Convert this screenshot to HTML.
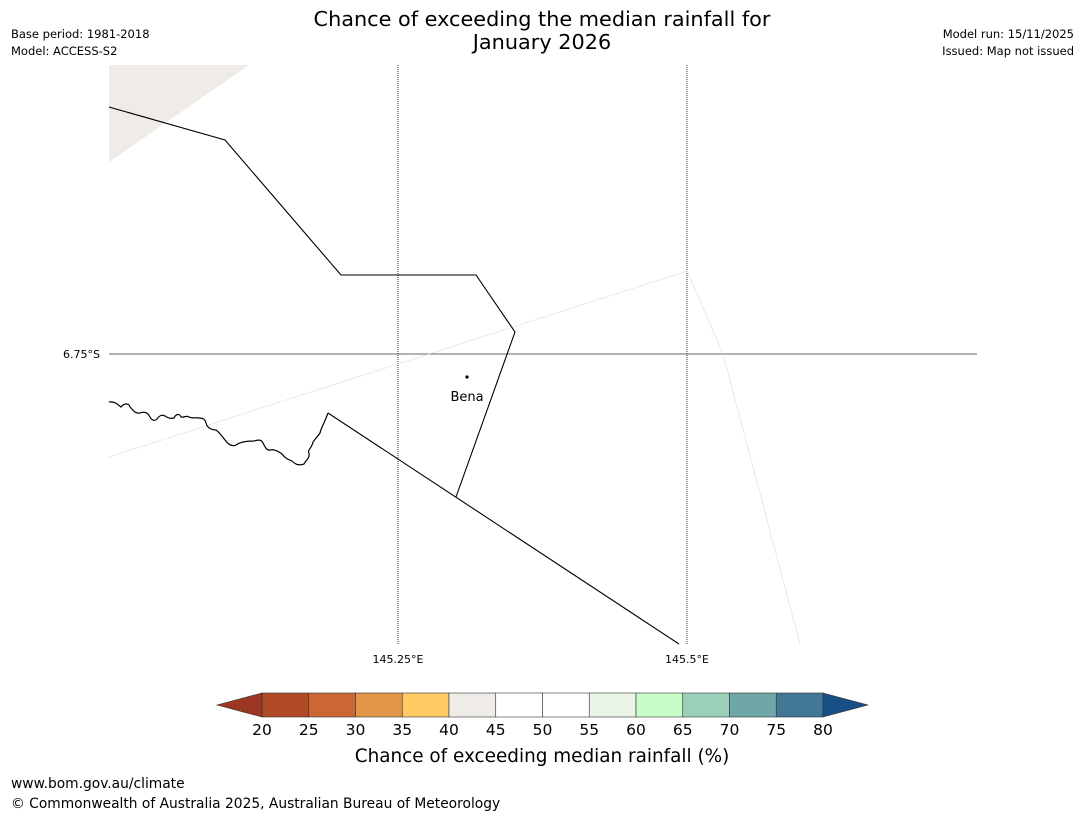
<!DOCTYPE html>
<html><head><meta charset="utf-8"><style>
body{margin:0;background:#fff;font-family:"Liberation Sans","DejaVu Sans",sans-serif;}
svg text{font-family:"DejaVu Sans","Liberation Sans",sans-serif;}
</style></head><body>
<svg width="1085" height="816" viewBox="0 0 1085 816" xmlns="http://www.w3.org/2000/svg">
<text x="542" y="26" font-size="20.8" text-anchor="middle">Chance of exceeding the median rainfall for</text>
<text x="542" y="49" font-size="20.8" text-anchor="middle">January 2026</text>
<text x="11" y="38" font-size="11.5">Base period: 1981-2018</text>
<text x="11" y="55" font-size="11.5">Model: ACCESS-S2</text>
<text x="1074" y="38" font-size="11.5" text-anchor="end">Model run: 15/11/2025</text>
<text x="1074" y="55" font-size="11.5" text-anchor="end">Issued: Map not issued</text>
<g>
<polygon points="109,65 249,65 109,162" fill="#efebe6"/>
<line x1="398" y1="65" x2="398" y2="644" stroke="#000" stroke-width="0.8" stroke-dasharray="1,1"/>
<line x1="687" y1="65" x2="687" y2="644" stroke="#000" stroke-width="0.8" stroke-dasharray="1,1"/>
<line x1="109" y1="354" x2="977" y2="354" stroke="#666" stroke-width="1"/>
<polyline points="109,457 687,271 723,354 800,644" fill="none" stroke="#ddd" stroke-width="0.6"/>
<polyline points="109,107 225,140 341,275 476,275 515,332 456,497" fill="none" stroke="#000" stroke-width="1.1"/>
<polyline points="328,413 679,644" fill="none" stroke="#000" stroke-width="1.1"/>
<path d="M109,402 C115,401 118,405 121,407 C124,403 129,403 130,407 C133,410 135,414 140,413 C145,411 148,413 150,417 C152,421 155,421 157,419 C159,416 162,414 165,416 C168,418 171,419 174,418 C176,414 179,413 181,417 C184,418 186,415 189,417 C193,419 196,417 199,418 C203,418 205,419 206,423 C207,428 212,430 216,430 C219,432 222,436 225,440 C228,444 232,447 236,445 C240,442 248,441 254,441 C258,440 261,439 263,443 C265,447 267,451 270,450 C274,449 278,451 282,454 C285,458 287,459 292,461 C295,464 298,466 304,464 C306,460 310,458 309,453 C307,450 312,448 313,442 C316,438 318,436 320,433 C321,428 324,424 328,413" fill="none" stroke="#000" stroke-width="1.2"/>
<circle cx="467" cy="377" r="1.6" fill="#000"/>
<text x="467" y="401" font-size="13" text-anchor="middle">Bena</text>
<text x="100" y="358" font-size="11" text-anchor="end">6.75°S</text>
<text x="398" y="663" font-size="11" text-anchor="middle">145.25°E</text>
<text x="687" y="663" font-size="11" text-anchor="middle">145.5°E</text>
</g>
<g id="cbar"></g>
<text x="542" y="762" font-size="18.4" text-anchor="middle">Chance of exceeding median rainfall (%)</text>
<text x="11" y="788" font-size="13.8">www.bom.gov.au/climate</text>
<text x="11" y="808" font-size="13.8">© Commonwealth of Australia 2025, Australian Bureau of Meteorology</text>
</svg>
<script>
const ticks=[20,25,30,35,40,45,50,55,60,65,70,75,80];
const binColors=["#b04a25","#cc6633","#e29647","#fecb65","#efebe6","#ffffff","#ffffff","#eaf5e8","#c8fcc8","#9ccfb9","#6fa6a8","#427796"];
const underColor="#9c3723", overColor="#184f87";
const g=document.getElementById('cbar'),NS="http://www.w3.org/2000/svg";
const x0=262,x1=823,y0=693,y1=717;
const sx=v=>x0+(v-ticks[0])/(ticks[ticks.length-1]-ticks[0])*(x1-x0);
function mk(t,a){const e=document.createElementNS(NS,t);for(const k in a)e.setAttribute(k,a[k]);g.appendChild(e);return e;}
binColors.forEach((c,i)=>{const r=mk('rect',{x:sx(ticks[i]),y:y0,width:sx(ticks[i+1])-sx(ticks[i]),height:y1-y0,fill:c,stroke:'#333','stroke-width':0.6});

});
const lt=mk('polygon',{points:`${x0},${y0} ${x0},${y1} 217,${(y0+y1)/2}`,fill:underColor,stroke:'#333','stroke-width':0.6});


const rt=mk('polygon',{points:`${x1},${y0} ${x1},${y1} 868,${(y0+y1)/2}`,fill:overColor,stroke:'#333','stroke-width':0.6});


ticks.forEach(v=>{const t=mk('text',{x:sx(v),y:735,'font-size':15.5,'text-anchor':'middle'});t.textContent=v;

});
</script>
</body></html>
